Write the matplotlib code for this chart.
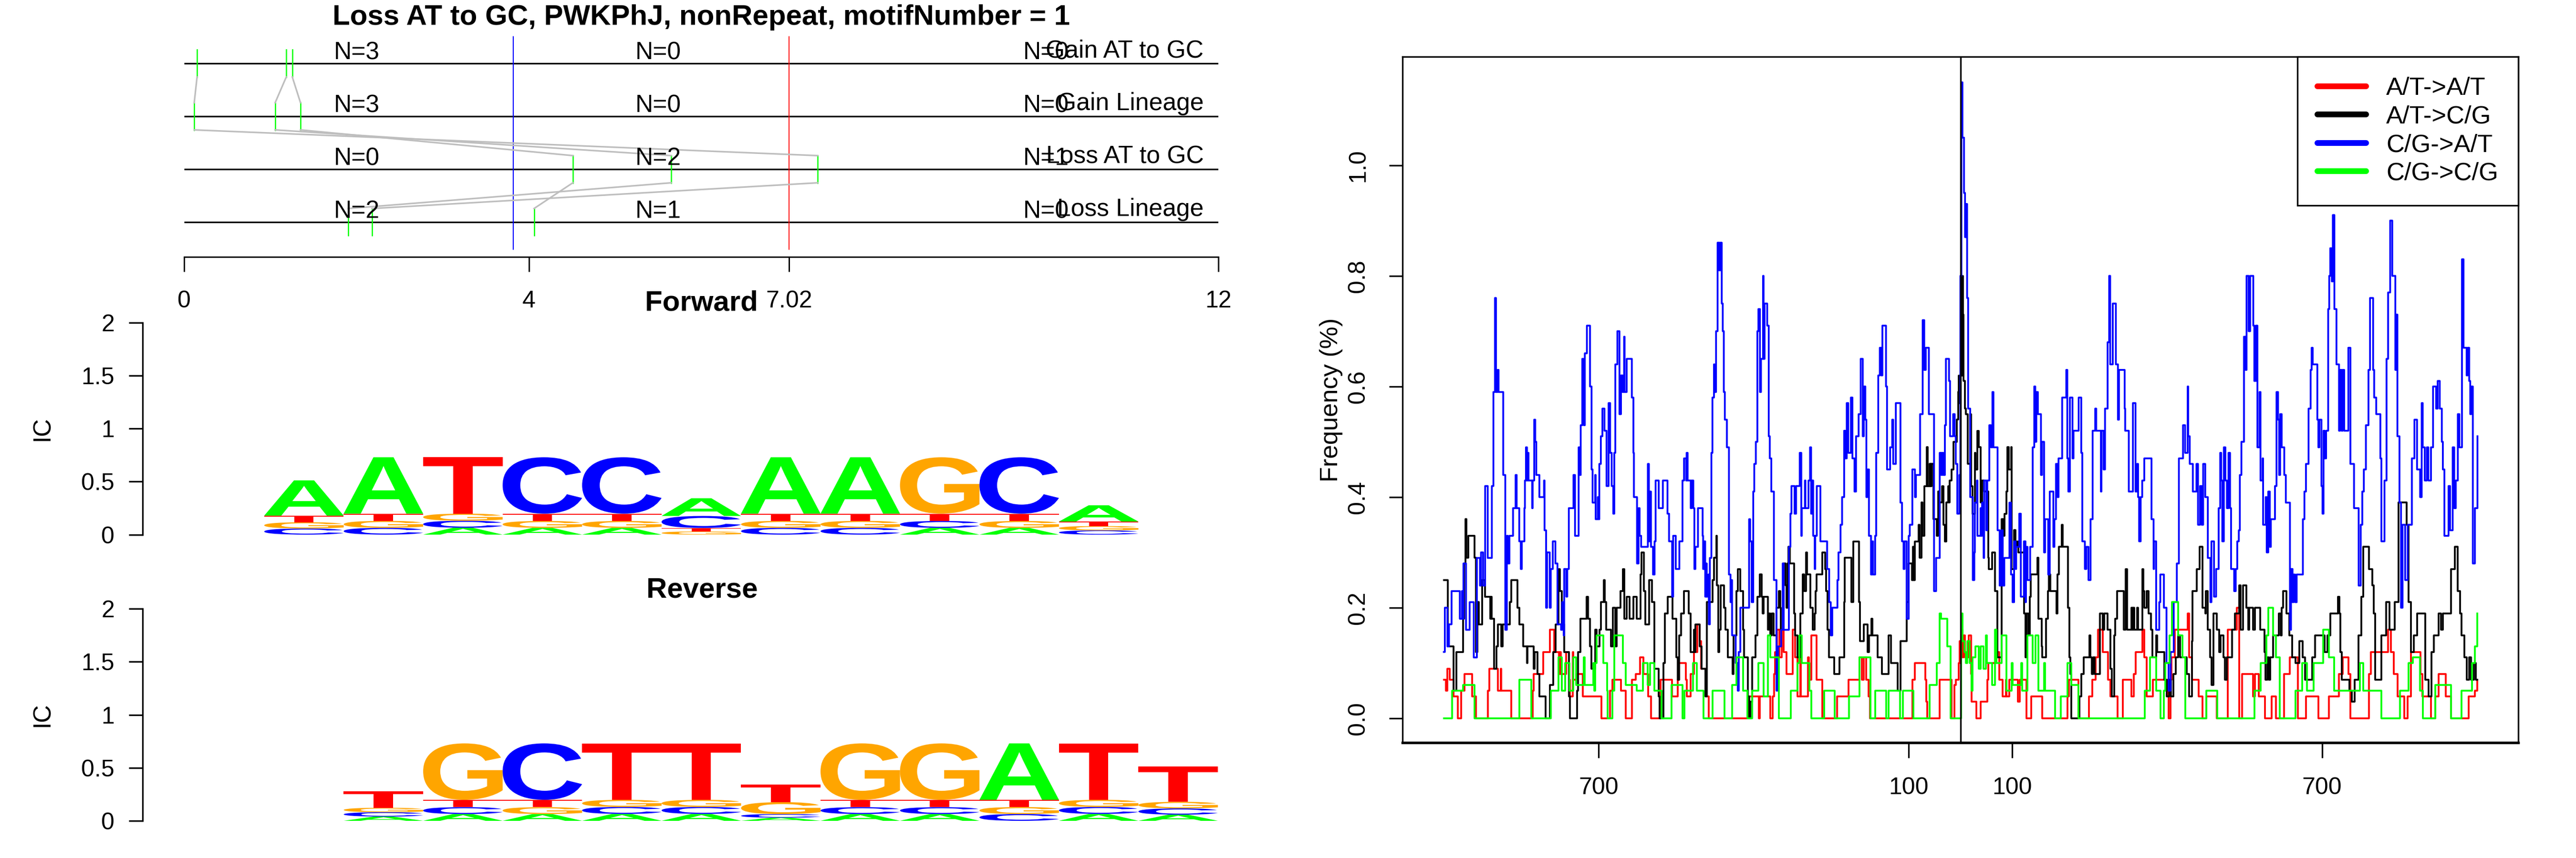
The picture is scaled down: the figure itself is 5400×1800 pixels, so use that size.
import numpy as np
import matplotlib
matplotlib.use("Agg")
import matplotlib.pyplot as plt
from matplotlib.textpath import TextPath
from matplotlib.patches import PathPatch
from matplotlib.font_manager import FontProperties
from matplotlib.transforms import Affine2D
from matplotlib.lines import Line2D

plt.rcParams['font.family'] = ['Liberation Sans', 'DejaVu Sans']

# ---------------- data: lineage / motif position panel ----------------
title = "Loss AT to GC, PWKPhJ, nonRepeat, motifNumber = 1"
row_names = ["Gain AT to GC", "Gain Lineage", "Loss AT to GC", "Loss Lineage"]
# positions of the three motif copies in each row (same copy = same index)
pos_gain_at_gc = [0.15, 1.185, 1.255]
pos_gain_lineage = [0.117, 1.056, 1.35]
pos_loss_at_gc = [7.35, 5.65, 4.51]
pos_loss_lineage = [2.18, 1.905, 4.06]
cut_blue = 3.82
cut_red = 7.02
n_counts = [[3, 0, 0], [3, 0, 0], [0, 2, 1], [2, 1, 0]]
tree_ticks = [0, 4, 7.02, 12]
tree_ticklabels = ["0", "4", "7.02", "12"]

# ---------------- data: sequence logos (information content per letter) ----------------
letters = ["A", "C", "G", "T"]
fwd_A = [0.333, 0.532, 0.065, 0.064, 0.064, 0.167, 0.532, 0.532, 0.064, 0.064, 0.154]
fwd_C = [0.058, 0.064, 0.066, 0.532, 0.532, 0.113, 0.064, 0.064, 0.065, 0.532, 0.040]
fwd_G = [0.059, 0.066, 0.067, 0.065, 0.065, 0.030, 0.066, 0.066, 0.532, 0.065, 0.041]
fwd_T = [0.062, 0.068, 0.532, 0.069, 0.069, 0.033, 0.068, 0.068, 0.069, 0.069, 0.042]

rev_A = [0.040, 0.064, 0.064, 0.065, 0.065, 0.030, 0.064, 0.064, 0.532, 0.065, 0.058]
rev_C = [0.041, 0.065, 0.532, 0.066, 0.066, 0.033, 0.065, 0.065, 0.064, 0.066, 0.059]
rev_G = [0.042, 0.532, 0.065, 0.067, 0.067, 0.113, 0.532, 0.532, 0.066, 0.067, 0.062]
rev_T = [0.154, 0.069, 0.069, 0.532, 0.532, 0.167, 0.069, 0.069, 0.068, 0.532, 0.333]

ic_ticks = [0, 0.5, 1, 1.5, 2]
ic_ticklabels = ["0", "0.5", "1", "1.5", "2"]

# ---------------- data: substitution frequency profile ----------------
series_names = ["A/T->A/T", "A/T->C/G", "C/G->A/T", "C/G->C/G"]

blue_pts = [(-1000,.12),(-998,.20),(-993,.13),(-990,.17),(-985,.23),(-969,.18),(-965,.23),(-964,.18),(-962,.28),(-957,.16),(-950,.21),(-942,.11),(-936,.29),(-930,.24),(-928,.30),(-924,.24),(-920,.42),(-915,.29),(-907,.42),(-904,.59),(-901,.76),(-899,.59),(-896,.63),(-894,.59),(-885,.44),(-881,.16),(-878,.33),(-876,.28),(-873,.33),(-866,.38),(-861,.44),(-859,.38),(-854,.32),(-851,.27),(-849,.32),(-844,.38),(-843,.43),(-841,.49),(-839,.43),(-838,.48),(-836,.43),(-829,.38),(-828,.43),(-825,.54),(-823,.50),(-821,.44),(-815,.40),(-806,.43),(-805,.34),(-802,.20),(-800,.30),(-795,.20),(-793,.27),(-789,.32),(-784,.28),(-780,.17),(-773,.16),(-771,.21),(-768,.15),(-767,.27),(-763,.22),(-761,.27),(-758,.38),(-749,.44),(-746,.33),(-739,.49),(-737,.44),(-735,.53),(-732,.65),(-729,.53),(-727,.66),(-723,.71),(-717,.60),(-714,.45),(-712,.39),(-707,.44),(-706,.36),(-702,.40),(-701,.36),(-699,.46),(-696,.51),(-693,.56),(-689,.52),(-685,.42),(-681,.57),(-678,.48),(-675,.42),(-672,.37),(-670,.48),(-668,.64),(-664,.70),(-660,.55),(-657,.62),(-654,.59),(-651,.69),(-650,.59),(-646,.65),(-636,.58),(-633,.48),(-632,.40),(-626,.28),(-623,.38),(-621,.33),(-618,.31),(-605,.46),(-603,.32),(-601,.41),(-599,.31),(-595,.26),(-592,.32),(-590,.43),(-584,.38),(-576,.43),(-567,.37),(-564,.32),(-558,.22),(-556,.33),(-551,.27),(-544,.32),(-538,.43),(-535,.47),
 (-531,.43),(-530,.48),(-528,.43),(-522,.38),(-520,.43),(-517,.38),(-515,.27),(-513,.31),(-508,.38),(-499,.33),(-498,.27),(-496,.32),(-494,.22),(-492,.28),(-491,.22),(-488,.26),(-487,.17),(-485,.29),(-482,.48),(-480,.58),(-477,.64),(-476,.59),(-473,.70),(-470,.86),(-467,.81),(-465,.86),(-462,.75),(-460,.70),(-458,.59),(-456,.54),(-452,.49),(-448,.26),(-445,.21),(-443,.25),(-442,.15),(-435,.10),(-431,.05),(-429,.12),(-426,.20),(-412,.20),(-409,.36),(-407,.32),(-404,.21),(-401,.41),(-399,.46),(-396,.50),(-393,.70),(-391,.74),(-388,.59),(-386,.65),(-382,.80),(-381,.65),(-379,.75),(-374,.71),(-371,.51),(-369,.47),(-366,.41),(-361,.25),(-356,.05),(-353,.13),(-347,.16),(-344,.28),(-342,.16),(-332,.31),(-329,.37),(-327,.42),(-321,.37),(-318,.42),(-311,.48),(-308,.33),(-307,.38),(-301,.43),(-300,.38),(-294,.43),(-291,.49),(-289,.37),(-287,.43),(-285,.33),(-282,.27),(-281,.33),(-278,.42),(-271,.32),(-258,.27),(-254,.21),(-251,.15),(-248,.20),(-238,.25),(-236,.30),(-232,.35),(-229,.40),(-225,.52),(-223,.47),(-220,.57),(-217,.48),(-212,.58),(-209,.47),(-205,.41),(-202,.51),(-197,.55),(-193,.65),(-189,.51),(-187,.60),(-184,.54),(-182,.40),(-180,.45),(-177,.33),(-173,.26),(-170,.32),(-169,.26),(-165,.33),(-163,.48),(-159,.62),(-156,.67),(-153,.62),(-151,.71),(-144,.60),(-142,.45),(-136,.49),(-132,.54),(-130,.46),(-125,.57),(-116,.39),(-113,.32),(-110,.27),(-108,.32),(-104,.18),(-100,.33),(-98,.35),(-93,.45),(-88,.40),(-86,.44),(-78,.55),(-73,.72),(-70,.63),(-67,.67),(-61,.55),(-51,.23),(-47,.29),(-40,.48),(-37,.44),(-35,.48),(-33,.44),(-30,.53),(-28,.65),
 (-22,.61),(-20,.51),(-14,.55),(-11,.51),(-9,.46),(-6,.37),(-2,.44),(0,.80),(2,1.15),(4,1.05),(7,.95),(9,.87),(11,.93),(13,.76),(15,.56),(19,.40),(24,.25),(27,.30),(28,.39),(32,.43),(33,.33),(39,.38),(41,.33),(42,.39),(45,.29),(46,.43),(50,.34),(52,.43),(56,.53),(59,.49),(62,.59),(64,.49),(72,.34),(76,.24),(79,.34),(82,.24),(85,.29),(95,.39),(98,.26),(101,.21),(104,.32),(107,.27),(108,.31),(114,.37),(117,.22),(123,.32),(126,.21),(127,.31),(130,.25),(135,.31),(140,.49),(143,.60),(145,.50),(147,.59),(150,.55),(156,.44),(158,.50),(162,.30),(164,.36),(170,.26),(173,.41),(180,.31),(182,.36),(185,.46),(188,.40),(190,.47),(197,.58),(205,.63),(207,.47),(209,.41),(212,.58),(217,.47),(219,.52),(229,.58),(234,.48),(236,.32),(241,.27),(244,.31),(248,.25),(252,.36),(256,.52),(261,.56),(263,.52),(272,.41),(273,.52),(277,.45),(280,.56),(285,.68),(288,.80),(290,.64),(295,.75),(301,.64),(305,.54),(307,.63),(318,.56),(319,.52),(326,.41),(334,.57),(339,.41),(342,.46),(344,.40),(346,.32),(349,.40),(352,.43),(356,.47),(370,.36),(374,.27),(375,.32),(379,.16),(385,.21),(387,.26),(394,.20),(399,.10),(403,.05),(407,.12),(413,.21),(419,.28),(423,.47),(431,.53),(435,.48),(440,.60),(441,.51),(444,.46),(450,.41),(457,.46),(460,.35),(464,.42),(467,.35),(470,.46),(474,.40),(479,.29),
 (484,.21),(486,.32),(491,.22),(495,.27),(500,.38),(503,.48),(505,.43),(507,.32),(510,.49),(513,.43),(516,.38),(519,.48),(522,.38),(524,.27),(530,.23),(533,.27),(536,.32),(539,.34),(541,.44),(544,.50),(549,.69),(552,.63),(554,.80),(558,.70),(561,.80),(567,.71),(569,.61),(572,.71),(575,.49),(579,.59),(581,.43),(585,.47),(586,.35),(591,.40),(593,.30),(596,.41),(599,.31),(601,.36),(609,.42),(612,.59),(615,.54),(617,.44),(619,.55),(622,.49),(627,.44),(630,.39),(638,.16),(640,.27),(643,.21),(645,.26),(648,.21),(651,.26),(663,.36),(666,.41),(669,.46),(674,.56),(678,.63),(680,.67),(682,.64),(691,.54),(693,.49),(695,.54),(699,.42),(701,.37),(703,.52),(705,.47),(708,.52),(712,.74),(714,.80),(716,.85),(719,.79),(721,.91),(724,.74),(728,.64),(733,.52),(735,.63),(738,.52),(740,.63),(743,.52),(751,.67),(755,.46),(762,.38),(771,.24),(775,.35),(778,.41),(781,.45),(785,.53),(790,.63),(793,.76),(799,.63),(801,.58),(805,.55),(813,.47),(815,.32),(821,.43),(825,.65),(828,.77),(832,.90),(836,.80),(842,.63),(844,.73),(846,.51),(850,.39),(853,.20),(856,.35),(861,.25),(866,.35),(874,.47),(879,.54),(884,.45),(890,.40),(893,.57),(895,.49),(899,.43),(903,.49),(906,.43),(911,.49),(915,.60),(921,.56),(924,.61),(928,.56),(932,.50),(934,.45),(937,.33),(945,.42),(948,.34),(953,.49),(956,.38),(959,.43),(963,.55),(966,.49),(971,.83),(974,.67),(980,.62),(982,.67),(985,.61),(987,.55),(989,.60),(992,.28),(996,.38),(1001,.51)]

black_pts = [(-1000,.25),(-992,.13),(-981,.05),(-976,.12),(-963,.18),(-961,.28),(-958,.36),(-956,.29),(-953,.33),(-941,.29),(-938,.12),(-935,.21),(-932,.17),(-926,.25),(-920,.22),(-910,.18),(-908,.22),(-907,.18),(-903,.09),(-898,.13),(-895,.17),(-889,.13),(-886,.17),(-872,.21),(-869,.25),(-857,.20),(-854,.17),(-846,.13),(-839,.10),(-838,.13),(-826,.09),(-824,.12),(-819,.08),(-815,.04),(-803,0),(-795,.06),(-788,.12),(-784,.17),(-778,.27),(-775,.23),(-772,.17),(-767,.12),(-758,.04),(-756,0),(-742,.05),(-740,.12),(-736,.18),(-724,.22),(-721,.18),(-717,.13),(-714,.09),(-707,.16),(-704,.13),(-699,.16),(-696,.21),(-690,.25),(-688,.21),(-686,.16),(-676,.13),(-673,.20),(-668,.13),(-665,.20),(-658,.23),(-653,.27),(-651,.18),(-646,.22),(-640,.18),(-633,.22),(-627,.18),(-619,.26),(-617,.30),(-613,.23),(-610,.17),(-603,.25),(-597,.21),(-592,.09),(-584,.04),(-582,0),(-575,.10),(-572,.19),(-567,.22),(-557,.18),(-550,.11),(-547,.07),(-544,.15),(-541,.19),(-535,.23),
 (-526,.19),(-522,.12),(-516,.16),(-514,.12),(-513,.17),(-505,.13),(-501,.09),(-494,.04),(-491,.21),(-480,.25),(-477,.29),(-472,.33),(-471,.24),(-469,.12),(-467,.16),(-464,.24),(-458,.20),(-455,.16),(-450,.11),(-441,.08),(-439,.15),(-434,.23),(-431,.27),(-426,.23),(-421,.16),(-419,.11),(-411,.04),(-409,0),(-407,.03),(-403,.11),(-397,.15),(-393,.22),(-388,.26),(-385,.22),(-383,.19),(-381,.22),(-373,.16),(-371,.19),(-368,.15),(-365,.19),(-362,.15),(-356,.20),(-351,.23),(-349,.20),(-348,.16),(-343,.28),(-338,.24),(-337,.20),(-335,.28),(-333,.31),(-330,.28),(-322,.19),(-320,.15),(-315,.11),(-310,.19),(-305,.26),(-302,.23),(-299,.30),(-297,.26),(-290,.20),(-286,.16),(-282,.19),(-280,.23),(-278,.26),(-267,.30),(-262,.27),(-260,.23),(-257,.16),(-254,.11),(-244,.08),(-234,.11),(-225,.21),(-224,.29),(-211,.21),(-207,.32),(-196,.21),(-194,.14),(-187,.17),(-180,.12),(-177,.15),(-172,.18),(-170,.15),(-160,.11),(-152,.08),(-139,.15),(-134,.10),(-121,.05),(-116,.14),(-104,.21),(-100,.28),(-94,.25),(-92,.31),(-90,.25),(-88,.32),(-81,.35),(-79,.29),(-75,.39),(-73,.33),(-70,.42),(-65,.49),(-63,.42),(-60,.46),(-58,.42),(-56,.46),(-52,.36),(-46,.33),(-43,.41),(-40,.39),(-36,.42),(-33,.35),(-30,.32),(-27,.39),(-24,.42),(-22,.39),
 (-21,.43),(-17,.45),(-13,.50),(-7,.54),(-4,.59),(-3,.62),(-1,.57),(0,.62),(3,.80),(5,.73),(6,.61),(9,.56),(11,.55),(14,.46),(19,.55),(21,.42),(24,.37),(28,.48),(29,.45),(33,.52),(36,.49),(39,.39),(42,.43),(46,.41),(54,.29),(55,.27),(61,.30),(67,.23),(72,.11),(80,.36),(83,.33),(85,.37),(89,.41),(91,.49),(94,.45),(98,.49),(99,.27),(104,.34),(107,.31),(109,.32),(112,.30),(123,.19),(126,.11),(128,.19),(132,.15),(134,.22),(136,.26),(149,.29),(151,.18),(157,.13),(158,.11),(166,.18),(169,.23),(171,.26),(174,.23),(186,.19),(188,.26),(191,.31),(196,.35),(198,.31),(208,.20),(211,.11),(213,.08),(215,0),(230,.04),(234,.08),(239,.11),(250,.15),(252,.11),(254,.08),(257,.11),(260,.08),(270,.19),(276,.16),(278,.19),(285,.16),(290,.09),(293,.04),(298,.15),(300,.18),(303,.23),(316,.16),(320,.27),(323,.16),(331,.20),(333,.16),(335,.20),(337,.16),(342,.20),(344,.16),(352,.27),(354,.23),(356,.20),(361,.23),(364,.19),(369,.16),(372,.11),(379,.15),(381,.12),(395,.07),(399,.04),(404,.07),(408,.04),(412,.08),(417,.11),(422,.15),(425,.11),(438,.08),(443,.04),(448,.14),(449,.23),(458,.27),(463,.31),(469,.20),(474,.19),(475,.23),(479,.16),(483,.11),(486,.06),
 (490,.19),(496,.16),(501,.12),(504,.15),(509,.11),(512,.07),(516,.11),(526,.16),(531,.19),(540,.24),(543,.16),(547,.24),(554,.20),(557,.16),(559,.20),(567,.16),(570,.20),(580,.16),(589,.12),(591,.07),(594,.11),(597,.07),(600,.11),(605,.15),(616,.19),(620,.15),(622,.20),(625,.23),(631,.19),(637,.15),(642,.11),(649,.10),(656,.14),(663,.11),(667,.07),(681,.11),(687,.15),(705,.12),(711,.15),(716,.19),(731,.22),(734,.19),(736,.12),(738,.07),(753,.05),(758,.03),(763,.07),(771,.15),(776,.22),(780,.31),(791,.27),(797,.24),(800,.19),(803,.07),(815,.15),(824,.21),(831,.16),(841,.21),(848,.39),(864,.35),(868,.21),(872,.12),(878,.15),(884,.19),(900,.07),(906,.04),(912,.12),(917,.15),(926,.19),(930,.16),(934,.19),(950,.27),(957,.31),(963,.23),(967,.19),(970,.15),(976,.11),(980,.07),(985,.11),(989,.07),(994,.10),(998,.07),(1001,.07)]

red_pts = [(-1000,.07),(-996,.05),(-993,.09),(-989,.07),(-981,.04),(-973,0),(-966,.05),(-960,.08),(-945,.04),(-938,0),(-915,.05),(-912,.09),(-895,.05),(-890,.09),(-889,.05),(-869,0),(-828,.05),(-826,.08),(-808,.12),(-795,.16),(-786,.12),(-777,.08),(-775,.12),(-773,.08),(-763,.12),(-758,.07),(-756,.04),(-750,.12),(-749,.07),(-744,.08),(-731,.04),(-695,0),(-678,.05),(-674,.07),(-657,.05),(-648,0),(-636,.07),(-628,.08),(-620,.11),(-614,.08),(-604,.04),(-599,0),(-580,.07),(-558,.04),(-547,.07),(-544,.10),
 (-534,.10),(-531,.07),(-530,.04),(-522,.08),(-516,.12),(-509,.17),(-505,.14),(-502,.09),(-492,.04),(-487,0),(-410,.04),(-390,0),(-388,.04),(-368,0),(-363,.04),(-361,.08),(-359,.12),(-355,.16),(-350,.11),(-346,.16),(-342,.12),(-337,.08),(-325,.16),(-320,.11),(-315,.04),(-310,.12),(-309,.04),(-295,.11),(-293,.07),(-289,.15),(-278,.07),(-267,0),(-239,.04),(-217,.07),(-195,.11),(-191,.07),(-187,.11),(-182,.07),(-178,.04),(-175,0),(-93,.07),(-88,.10),(-68,.07),(-66,.03),(-64,0),(-40,.07),
 (-17,0),(-12,.06),(-9,.07),(-3,.10),(-1,.14),(1,.16),(4,.11),(6,.15),(9,.11),(16,.15),(21,.08),(22,.03),(31,0),(39,.03),(52,.07),(54,.10),(70,.16),(72,.12),(75,.07),(82,.04),(88,.07),(89,.04),(95,.07),(111,.03),(115,.07),(128,0),(137,.04),(158,0),(207,.04),(210,.07),(229,0),(249,.04),(255,.07),(262,.11),(266,.16),(276,.12),(286,.07),(290,.04),(304,0),(314,.07),(331,.04),(336,.08),(339,.12),(352,.16),(356,.11),(361,.04),(373,.07),(401,.04),(403,0),(407,.07),(409,.11),(415,.16),(440,.19),(443,.11),(448,.07),(461,.04),(469,0),(476,.04),
 (481,.04),(496,0),(518,.16),(535,.20),(540,0),(545,.08),(567,.04),(570,.08),(578,.04),(590,0),(603,.04),(611,0),(627,.08),(638,.11),(653,0),(669,.04),(693,0),(713,.04),(733,.08),(740,.11),(751,.08),(755,0),(791,.08),(795,.12),(828,.16),(833,.12),(839,.08),(846,.04),(859,0),(866,.04),(872,.12),(891,.08),(894,.04),(911,0),(919,.04),(926,.08),(940,.04),(950,0),(984,.04),(996,.05),(1001,.07)]

green_pts = [(-1000,0),(-984,.05),(-963,.06),(-941,0),(-854,.07),(-831,0),(-793,.05),(-778,.11),(-772,.05),(-765,.10),(-757,.05),(-749,.11),(-744,.06),(-729,.11),(-727,.06),(-711,.10),(-709,.05),(-707,.10),(-704,.15),(-691,.10),(-684,.05),(-683,0),(-674,.05),(-670,.15),(-653,.10),(-648,.06),(-627,.05),(-615,.10),(-605,.06),(-601,.10),(-592,.05),(-579,0),(-559,.06),(-538,0),
 (-534,.05),(-518,.10),(-510,.05),(-497,0),(-480,.05),(-457,0),(-442,.06),(-434,.11),(-421,.05),(-412,0),(-403,.05),(-391,.10),(-381,.04),(-373,.15),(-368,.11),(-351,0),(-328,.05),(-315,.10),(-312,.15),(-307,.10),(-292,.05),(-289,0),(-264,.05),(-243,0),(-216,.04),(-195,.11),(-174,0),(-165,.05),(-144,0),(-139,.05),(-117,0),(-111,.05),(-91,0),(-60,.06),(-46,.10),(-40,.19),(-37,.18),(-25,.13),
 (-19,0),(1,.19),(4,.14),(8,.12),(11,.10),(13,.14),(18,.10),(22,.05),(24,.11),(29,.13),(36,.09),(39,.13),(45,.09),(49,.15),(51,.10),(61,.06),(67,.16),(70,.10),(80,.15),(89,.05),(99,.10),(101,.06),(118,.10),(120,.05),(130,.15),(140,.10),(145,.15),(151,.05),(162,.10),(164,.05),(183,0),(194,.04),(207,.10),(215,.06),(229,0),(357,.05),(367,.11),(379,.05),(387,0),(394,.05),(397,.10),(405,.15),(410,.21),(422,.15),(430,.11),(435,0),(476,.05),
 (497,0),(569,.05),(581,.10),(592,.15),(596,.20),(605,.15),(611,.11),(618,0),(649,.05),(662,.10),(671,.05),(684,.10),(702,.16),(713,.11),(724,.05),(773,.10),(780,.05),(815,0),(851,.05),(868,.10),(876,.11),(890,.05),(895,0),(919,.06),(950,0),(970,.05),(990,.10),(996,.13),(1001,.19)]

freq_xticks = [-700, -100, 100, 700]
freq_xticklabels = ["700", "100", "100", "700"]
freq_yticks = [0.0, 0.2, 0.4, 0.6, 0.8, 1.0]
freq_yticklabels = ["0.0", "0.2", "0.4", "0.6", "0.8", "1.0"]

# ---------------- figure ----------------
W, H = 5400.0, 1800.0
fig = plt.figure(figsize=(18, 6), dpi=300)


def fx(px):
    return px / W


def fy(py):
    return 1 - py / H


# ---- tree / lineage panel ----
ax_t = fig.add_axes([fx(386), fy(539), (2554 - 386) / W, (539 - 55.3) / H])
ax_t.set_xlim(0, 12)
ax_t.set_ylim(0.342, 4.7)
for s in ["top", "right", "left"]:
    ax_t.spines[s].set_visible(False)
ax_t.spines["bottom"].set_bounds(0, 12)
ax_t.spines["bottom"].set_linewidth(0.7)
ax_t.set_yticks([])
ax_t.set_xticks(tree_ticks)
ax_t.set_xticklabels(tree_ticklabels)
ax_t.tick_params(axis="x", length=7.4, width=0.7, pad=9.5, labelsize=12)

rows_y = [4, 3, 2, 1]
rows_pos = [pos_gain_at_gc, pos_gain_lineage, pos_loss_at_gc, pos_loss_lineage]
half = 0.257
for ry in rows_y:
    ax_t.plot([0, 12], [ry, ry], color="black", lw=0.8, solid_capstyle="butt")
ax_t.plot([cut_blue, cut_blue], [0.486, 4.5], color="blue", lw=0.5)
ax_t.plot([cut_red, cut_red], [0.486, 4.5], color="red", lw=0.5)
for r in range(4):
    for p in rows_pos[r]:
        ax_t.plot([p, p], [rows_y[r] - half, rows_y[r] + half], color="#00FF00", lw=0.6)
for r in range(3):
    for a, b in zip(rows_pos[r], rows_pos[r + 1]):
        ax_t.plot([a, b], [rows_y[r] - half, rows_y[r + 1] + half], color="#BEBEBE", lw=0.8)
n_xpos = [2.0, 5.5, 10.0]
for r in range(4):
    for k in range(3):
        ax_t.text(n_xpos[k], rows_y[r] + 0.08, "N=%d" % n_counts[r][k], ha="center",
                  va="baseline", fontsize=12.4)
    ax_t.text(11.83, rows_y[r] + 0.115, row_names[r], ha="right", va="baseline", fontsize=12.4)

fig.text(fx(1470), fy(52), title, ha="center", va="baseline", fontsize=14.4, weight="bold")

# ---- sequence logos ----
fp = FontProperties(family="Liberation Sans", weight="bold")
letter_colors = {"A": "#00FF00", "C": "#0000FF", "G": "#FFA500", "T": "#FF0000"}
glyphs = {}
for L in letters:
    tp = TextPath((0, 0), L, size=1, prop=fp)
    glyphs[L] = (tp, tp.get_extents())


def draw_logo(ax, start, heights):
    ncol = len(heights["A"])
    for i in range(ncol):
        col = sorted([(heights[L][i], L) for L in letters])
        y0 = 0.0
        for h, L in col:
            tp, bb = glyphs[L]
            tr = (Affine2D().translate(-bb.x0, -bb.y0)
                  .scale(1.0 / bb.width, h / bb.height)
                  .translate(start + i, y0))
            ax.add_patch(PathPatch(tr.transform_path(tp), facecolor=letter_colors[L],
                                   edgecolor="none", clip_on=False))
            y0 += h


def setup_logo(ax):
    ax.set_xlim(-1.533, 12)
    ax.set_ylim(0, 2)
    for s in ["top", "right", "bottom"]:
        ax.spines[s].set_visible(False)
    ax.spines["left"].set_bounds(0, 2)
    ax.spines["left"].set_linewidth(0.8)
    ax.set_xticks([])
    ax.set_yticks(ic_ticks)
    ax.set_yticklabels(ic_ticklabels)
    ax.tick_params(axis="y", length=7, width=0.8, pad=7, labelsize=12)
    ax.patch.set_alpha(0)


ax_f = fig.add_axes([fx(298.5), fy(1121.6), 2254.5 / W, 444.6 / H])
setup_logo(ax_f)
draw_logo(ax_f, 0, {"A": fwd_A, "C": fwd_C, "G": fwd_G, "T": fwd_T})

ax_r = fig.add_axes([fx(298.5), fy(1722), 2254.5 / W, 445 / H])
setup_logo(ax_r)
draw_logo(ax_r, 1, {"A": rev_A, "C": rev_C, "G": rev_G, "T": rev_T})

fig.text(fx(1470), fy(652), "Forward", ha="center", va="baseline", fontsize=14.4, weight="bold")
fig.text(fx(1472), fy(1254), "Reverse", ha="center", va="baseline", fontsize=14.4, weight="bold")
fig.text(fx(89.5), fy(899.5), "IC", rotation=90, ha="center", va="center", fontsize=12.4)
fig.text(fx(89.5), fy(1499.5), "IC", rotation=90, ha="center", va="center", fontsize=12.4)

# ---- frequency profile ----
ax_p = fig.add_axes([fx(2940), fy(1558), 2339 / W, (1558 - 119.3) / H])
ax_p.set_xlim(-1080, 1080)
ax_p.set_ylim(-0.044, 1.196)
series = [(red_pts, "#FF0000"), (black_pts, "#000000"), (blue_pts, "#0000FF"), (green_pts, "#00FF00")]
for k, (pts, c) in enumerate(series):
    xs = [p[0] for p in pts]
    ys = [p[1] for p in pts]
    ax_p.plot(xs, ys, color=c, lw=0.9, drawstyle="steps-post", zorder=2 + k)
ax_p.axvline(0, color="black", lw=0.8, zorder=10)
for s in ax_p.spines.values():
    s.set_linewidth(0.8)
ax_p.spines["bottom"].set_linewidth(1.3)
ax_p.set_xticks(freq_xticks)
ax_p.set_xticklabels(freq_xticklabels)
ax_p.set_yticks(freq_yticks)
ax_p.set_yticklabels(freq_yticklabels, rotation=90, va="center")
ax_p.tick_params(axis="x", length=7.7, width=0.8, pad=9.5, labelsize=12)
ax_p.tick_params(axis="y", length=6.7, width=0.8, pad=10, labelsize=12)
fig.text(fx(2790), fy(838.7), "Frequency (%)", rotation=90, ha="center", va="center", fontsize=12.6)

handles = [Line2D([], [], color=c, lw=2.9, solid_capstyle="round") for _, c in series]
leg = ax_p.legend(handles, series_names, loc="upper right", bbox_to_anchor=(1, 1),
                  borderaxespad=0, frameon=True, fancybox=False, fontsize=12.6,
                  handlelength=1.95, handletextpad=0.8, labelspacing=0.2,
                  borderpad=0.8)
leg.get_frame().set_edgecolor("black")
leg.get_frame().set_linewidth(0.8)
leg.get_frame().set_alpha(1)
leg.set_zorder(20)

fig.savefig("out.png", dpi=300)
